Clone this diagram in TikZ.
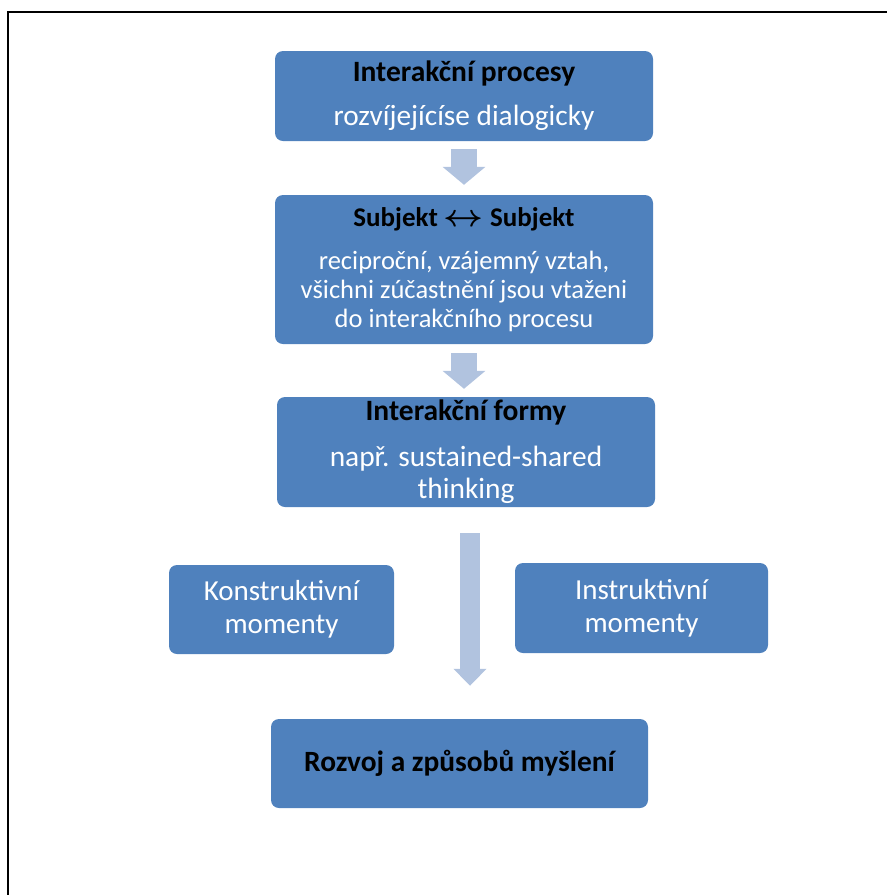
\documentclass[tikz,border=0pt]{standalone}
\usepackage{fontspec}
\setmainfont{Carlito}
\usetikzlibrary{arrows.meta}
\definecolor{boxblue}{HTML}{4F81BD}
\definecolor{arrowblue}{HTML}{B1C3DF}

\begin{document}
\begin{tikzpicture}[x=1pt,y=-1pt,
  box/.style={fill=boxblue,rounded corners=8pt,text=white,align=center,inner sep=0pt},
  flow/.style={line width=26pt,color=arrowblue,-{Triangle[width=42pt,length=18pt]}}]

\useasboundingbox (0,0) rectangle (887,895);
\draw[line width=1.6pt] (8,900)--(8,12)--(887,12);

% the chain of boxes
\node[box,minimum width=378pt,minimum height=90pt,font=\fontsize{29.3}{36}\selectfont] (proc) at (464,96)
  {{\bfseries\fontsize{29.5}{36}\selectfont\color{black}Interakční procesy}\\[8pt]rozvíjejícíse dialogicky};
\node[box,minimum width=378pt,minimum height=149pt,font=\fontsize{26.5}{29}\selectfont] (subj) at (464,269.5)
  {{\bfseries\fontsize{27}{32}\selectfont\color{black}Subjekt \scalebox{1.4}[1.25]{\boldmath$\leftrightarrow$} Subjekt}\\[14pt]reciproční, vzájemný vztah,\\všichni zúčastnění jsou vtaženi\\do interakčního procesu};
\node[box,minimum width=378pt,minimum height=110pt,font=\fontsize{29.4}{32}\selectfont] (forma) at (466,452)
  {{\bfseries\fontsize{29.5}{34}\selectfont\color{black}Interakční formy}\\[14pt]např. sustained-shared\\thinking};
\node[box,minimum width=225pt,minimum height=89pt,font=\fontsize{29}{33}\selectfont] (konstr) at (281.5,609.5)
  {Konstruktivní\\momenty};
\node[box,minimum width=253pt,minimum height=90pt,font=\fontsize{29}{33}\selectfont] (instr) at (641.5,608)
  {Instruktivní\\momenty};
\node[box,minimum width=377pt,minimum height=89pt,font=\bfseries\fontsize{29.4}{34}\selectfont,text=black] (rozvoj) at (459.5,763.5)
  {Rozvoj a způsobů myšlení};

% block arrows
\draw[flow,shorten <=8pt,shorten >=10pt] (proc.south) -- (subj.north);
\draw[flow,shorten <=9pt,shorten >=8pt] (subj.south) -- (subj.south |- forma.north);
\coordinate (long) at (470,533);
\draw[flow,line width=20pt,-{Triangle[width=32pt,length=17pt]},shorten >=33pt] (long) -- (long |- rozvoj.north);

\end{tikzpicture}
\end{document}
